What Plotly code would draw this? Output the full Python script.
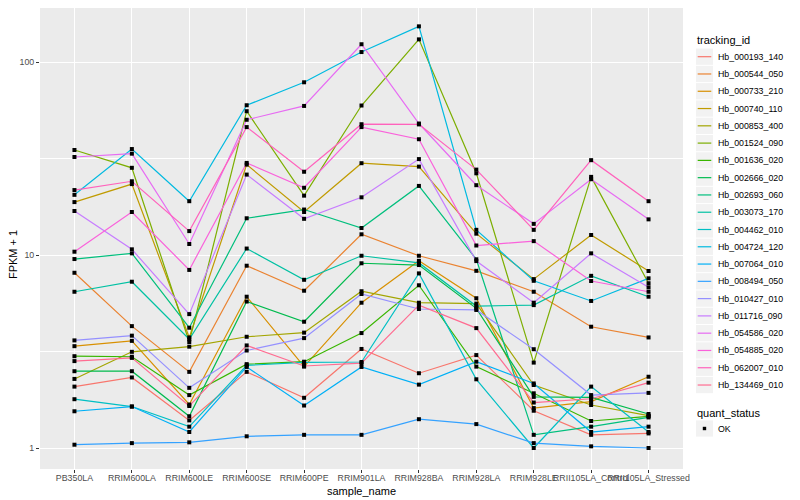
import plotly.graph_objects as go

samples = ["PB350LA", "RRIM600LA", "RRIM600LE", "RRIM600SE", "RRIM600PE", "RRIM901LA",
           "RRIM928BA", "RRIM928LA", "RRIM928LE", "RRII105LA_Control", "RRII105LA_Stressed"]

tracking_ids = ["Hb_000193_140", "Hb_000544_050", "Hb_000733_210", "Hb_000740_110", "Hb_000853_400",
                "Hb_001524_090", "Hb_001636_020", "Hb_002666_020", "Hb_002693_060", "Hb_003073_170",
                "Hb_004462_010", "Hb_004724_120", "Hb_007064_010", "Hb_008494_050", "Hb_010427_010",
                "Hb_011716_090", "Hb_054586_020", "Hb_054885_020", "Hb_062007_010", "Hb_134469_010"]

# FPKM + 1 per sample, one list per tracking_id
hb_000193_140 = [2.08, 2.32, 1.39, 2.48, 1.82, 3.26, 2.44, 3.03, 1.56, 1.17, 1.19]
hb_000544_050 = [8.09, 4.28, 2.48, 8.8, 6.53, 12.8, 9.91, 8.28, 6.45, 4.25, 3.74]
hb_000733_210 = [3.37, 3.59, 1.68, 6.08, 2.64, 5.66, 9.33, 5.97, 1.61, 1.74, 2.34]
hb_000740_110 = [18.8, 23.3, 3.74, 29.4, 16.7, 29.9, 28.7, 12.9, 7.5, 12.7, 8.26]
hb_000853_400 = [2.28, 3.15, 3.35, 3.77, 3.96, 6.49, 5.66, 5.6, 2.12, 1.67, 1.47]
hb_001524_090 = [35.0, 28.3, 3.54, 55.6, 20.3, 59.5, 131.0, 26.5, 2.77, 25.4, 7.14]
hb_001636_020 = [2.99, 2.97, 1.88, 2.72, 2.80, 3.94, 6.97, 2.64, 1.92, 1.38, 1.46]
hb_002666_020 = [2.50, 2.50, 1.46, 5.74, 4.51, 9.06, 8.87, 5.29, 1.84, 1.83, 1.50]
hb_002693_060 = [9.53, 10.2, 4.20, 15.5, 17.2, 13.8, 22.8, 9.5, 1.17, 1.29, 1.44]
hb_003073_170 = [6.45, 7.27, 3.66, 10.8, 7.44, 9.91, 9.10, 5.44, 5.50, 7.80, 6.08]
hb_004462_010 = [1.79, 1.64, 1.29, 2.68, 2.78, 2.79, 8.03, 2.27, 1.00, 2.08, 1.21]
hb_004724_120 = [20.5, 35.4, 19.0, 59.7, 78.5, 112.6, 153.0, 13.5, 7.35, 5.78, 7.57]
hb_007064_010 = [1.55, 1.64, 1.21, 2.63, 1.66, 2.63, 2.13, 2.80, 2.16, 1.21, 1.29]
hb_008494_050 = [1.04, 1.06, 1.07, 1.15, 1.17, 1.17, 1.41, 1.33, 1.06, 1.02, 1.00]
hb_010427_010 = [3.61, 3.82, 2.05, 3.20, 3.71, 6.28, 5.25, 5.19, 3.25, 1.88, 1.93]
hb_011716_090 = [16.9, 10.7, 4.94, 26.1, 15.4, 19.9, 31.4, 9.3, 5.66, 10.2, 6.80]
hb_054586_020 = [32.2, 33.5, 11.4, 50.2, 59.2, 123.6, 48.0, 23.0, 14.5, 24.7, 15.3]
hb_054885_020 = [10.4, 16.7, 8.37, 30.0, 22.3, 46.0, 39.8, 11.2, 11.8, 7.33, 6.45]
hb_062007_010 = [21.7, 24.1, 13.3, 46.0, 27.0, 47.6, 47.5, 27.7, 13.5, 31.0, 19.0]
hb_134469_010 = [2.82, 2.93, 1.65, 3.40, 2.66, 2.75, 5.50, 4.18, 1.72, 1.80, 2.18]

series = [hb_000193_140, hb_000544_050, hb_000733_210, hb_000740_110, hb_000853_400,
          hb_001524_090, hb_001636_020, hb_002666_020, hb_002693_060, hb_003073_170,
          hb_004462_010, hb_004724_120, hb_007064_010, hb_008494_050, hb_010427_010,
          hb_011716_090, hb_054586_020, hb_054885_020, hb_062007_010, hb_134469_010]

quant_status = ["OK"]

palette = ["#F8766D", "#EA8331", "#D89000", "#C09B00", "#A3A500", "#7CAE00", "#39B600", "#00BB4E",
           "#00BF7D", "#00C1A3", "#00BFC4", "#00BAE0", "#00B0F6", "#35A2FF", "#9590FF", "#C77CFF",
           "#E76BF3", "#FA62DB", "#FF62BC", "#FF6C91"]

FONT = "Liberation Sans, Arial, Helvetica, sans-serif"
W, H = 800, 500
OFF = 8  # page offset of the figure inside the browser window
# panel edges in window pixels
WL, WR, WT, WB = 40, 683.5, 8, 469
L, R, T, B = WL - OFF, WR - OFF, WT - OFF, WB - OFF
PW, PH = R - L, B - T
DEC = 193.0  # pixels per decade
Y1 = 448.0   # window y of value 1
y_top = (Y1 - WT) / DEC
y_bot = (Y1 - WB) / DEC


def px(x):
    return (x - OFF - L) / PW


def py(y):
    return (B - (y - OFF)) / PH


fig = go.Figure()
for name, vals, col in zip(tracking_ids, series, palette):
    fig.add_trace(go.Scatter(x=samples, y=vals, mode="lines", name=name,
                             line=dict(color=col, width=1.2), showlegend=False))

all_x = [s for vals in series for s in samples]
all_y = [v for vals in series for v in vals]
fig.add_trace(go.Scatter(x=all_x, y=all_y, mode="markers", name=quant_status[0],
                         marker=dict(color="black", symbol="square", size=4, line=dict(width=0)),
                         showlegend=False))

shapes = []
annotations = []
annotations.append(dict(text="tracking_id", x=px(696), y=py(40.5), xref="paper", yref="paper",
                        xanchor="left", yanchor="middle", showarrow=False,
                        font=dict(size=11, color="black", family=FONT)))
key = 17.28
y0 = 56.7
for i, (name, col) in enumerate(zip(tracking_ids, palette)):
    cy = y0 + i * key
    shapes.append(dict(type="rect", xref="paper", yref="paper", x0=px(696.5), x1=px(713.5),
                       y0=py(cy - key / 2 + 0.5), y1=py(cy + key / 2 - 0.5),
                       fillcolor="#F2F2F2", line=dict(width=0), layer="below"))
    shapes.append(dict(type="line", xref="paper", yref="paper", x0=px(698.2), x1=px(711.8),
                       y0=py(cy), y1=py(cy), line=dict(color=col, width=1.2)))
    annotations.append(dict(text=name, x=px(717), y=py(cy), xref="paper", yref="paper",
                            xanchor="left", yanchor="middle", showarrow=False,
                            font=dict(size=8.8, color="black", family=FONT)))
annotations.append(dict(text="quant_status", x=px(696), y=py(413), xref="paper", yref="paper",
                        xanchor="left", yanchor="middle", showarrow=False,
                        font=dict(size=11, color="black", family=FONT)))
qy = 428.5
shapes.append(dict(type="rect", xref="paper", yref="paper", x0=px(696.5), x1=px(713.5),
                   y0=py(qy - key / 2 + 0.5), y1=py(qy + key / 2 - 0.5),
                   fillcolor="#F2F2F2", line=dict(width=0), layer="below"))
shapes.append(dict(type="rect", xref="paper", yref="paper", x0=px(703.3), x1=px(706.7),
                   y0=py(qy - 1.7), y1=py(qy + 1.7), fillcolor="black", line=dict(width=0)))
annotations.append(dict(text=quant_status[0], x=px(717), y=py(qy), xref="paper", yref="paper",
                        xanchor="left", yanchor="middle", showarrow=False,
                        font=dict(size=8.8, color="black", family=FONT)))
annotations.append(dict(text="sample_name", x=0.5, y=py(491), xref="paper", yref="paper",
                        xanchor="center", yanchor="middle", showarrow=False,
                        font=dict(size=11, color="black", family=FONT)))
annotations.append(dict(text="FPKM + 1", x=px(13), y=py(255), xref="paper", yref="paper",
                        xanchor="center", yanchor="middle", showarrow=False, textangle=-90,
                        font=dict(size=11, color="black", family=FONT)))

fig.update_layout(
    width=W, height=H,
    margin=dict(l=L, r=W - R, t=T, b=H - B, pad=0, autoexpand=False),
    paper_bgcolor="white", plot_bgcolor="#EBEBEB",
    font=dict(family=FONT, size=9, color="#4D4D4D"),
    shapes=shapes, annotations=annotations,
    xaxis=dict(type="category", categoryorder="array", categoryarray=samples,
               range=[-0.6, len(samples) - 0.4], showgrid=True, gridcolor="white", gridwidth=1.1,
               zeroline=False, showline=False, ticks="outside", ticklen=3, tickwidth=1,
               tickcolor="#333333", tickangle=0, automargin=False, ticklabelstandoff=-3,
               tickfont=dict(size=8.8, color="#4D4D4D", family=FONT)),
    yaxis=dict(type="log", range=[y_bot, y_top], tickvals=[1, 10, 100], ticktext=["1", "10", "100"],
               showgrid=True, gridcolor="white", gridwidth=1.1, zeroline=False, showline=False,
               ticks="outside", ticklen=3, tickwidth=1, tickcolor="#333333", automargin=False,
               tickfont=dict(size=8.8, color="#4D4D4D", family=FONT),
               minor=dict(tickvals=[3.1623, 31.623], showgrid=True, gridcolor="white",
                          gridwidth=0.55, ticks="")),
)

fig.write_html("out.html")
